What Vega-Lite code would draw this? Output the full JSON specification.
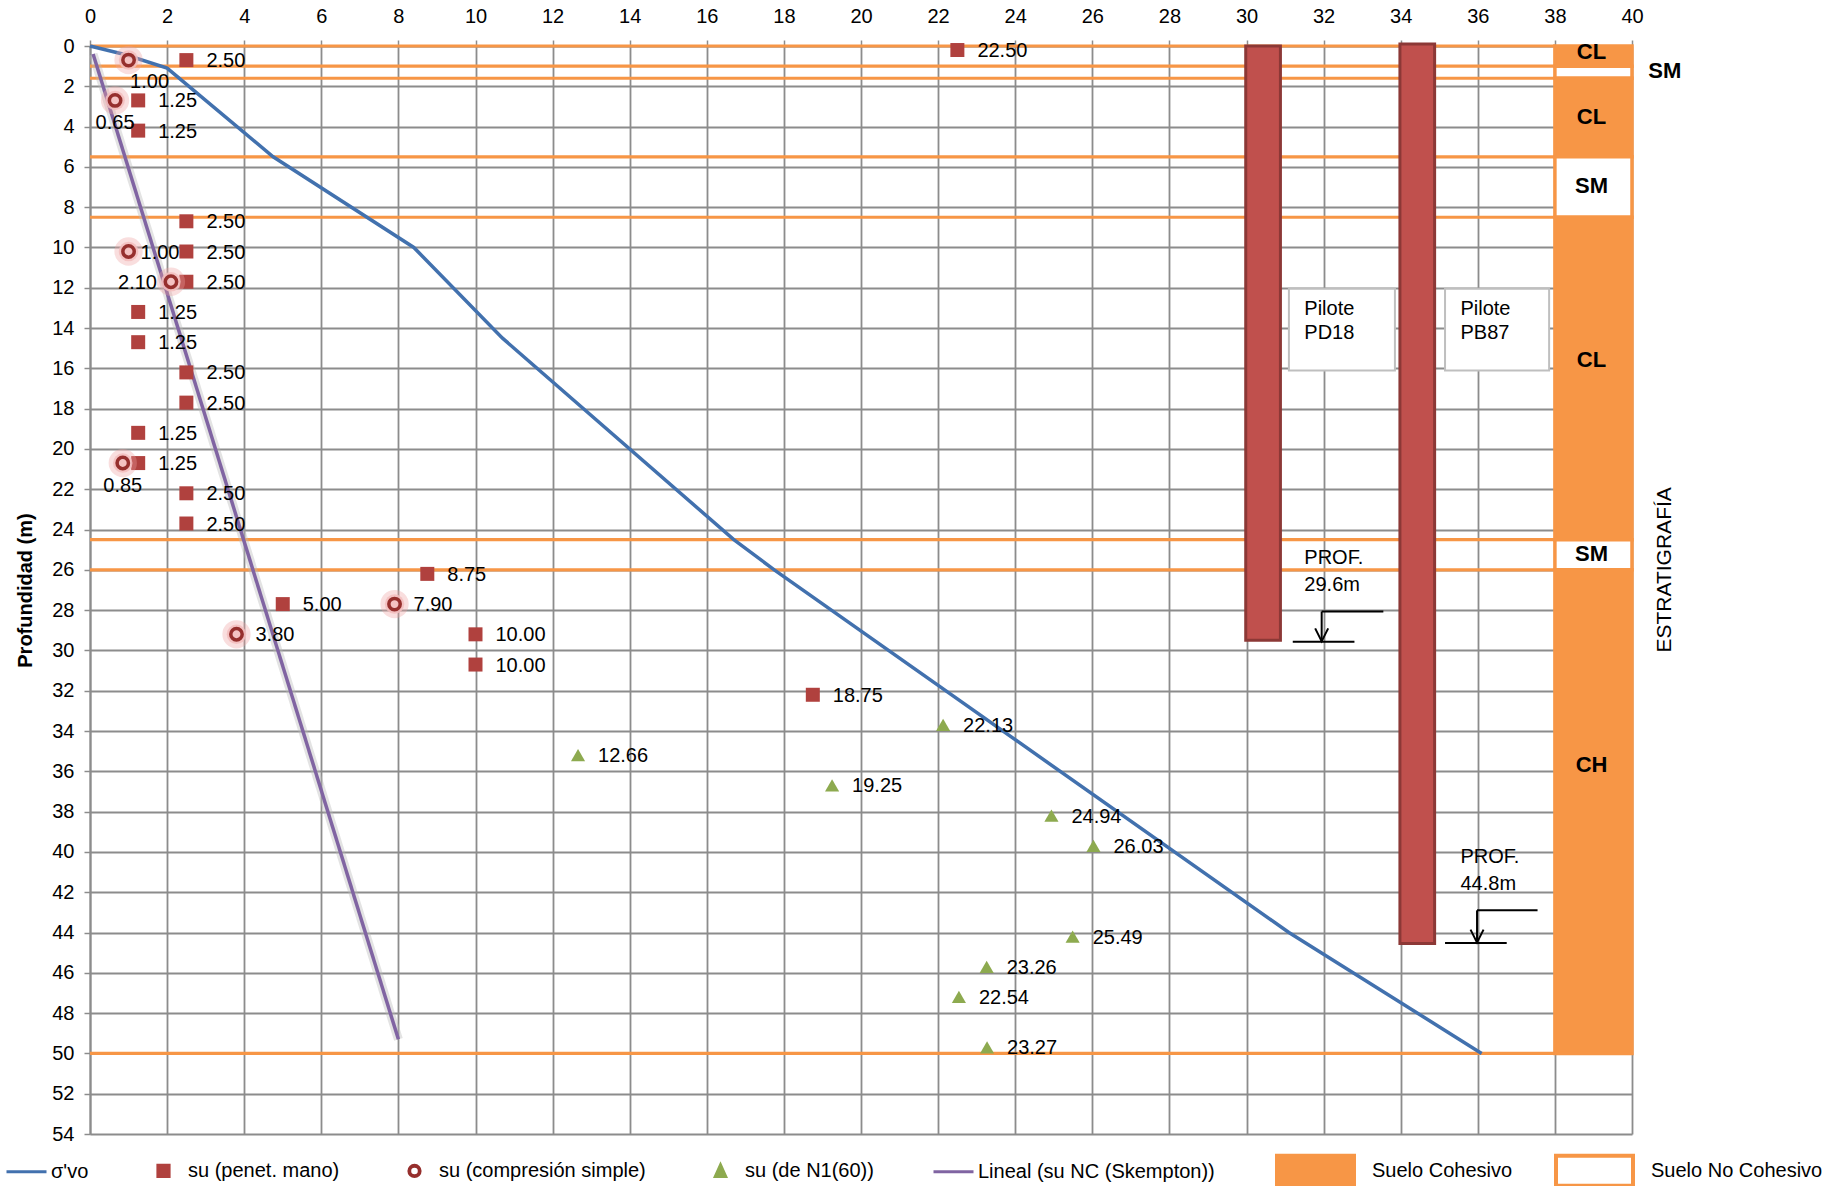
{
  "$schema": "https://vega.github.io/schema/vega-lite/v6.json",
  "width": 1542,
  "height": 1088,
  "autosize": {"type": "none"},
  "padding": {"left": 90, "top": 46, "right": 209, "bottom": 52},
  "background": "#ffffff",
  "config": {"view": {"stroke": null}, "font": "Liberation Sans"},
  "datasets": {
    "estratos": [
      {"suelo": "CL", "tipo": "Suelo Cohesivo", "desde": 0, "hasta": 1.0, "etq": 0.3},
      {"suelo": "SM", "tipo": "Suelo No Cohesivo", "desde": 1.0, "hasta": 1.6, "etq": 1.25},
      {"suelo": "CL", "tipo": "Suelo Cohesivo", "desde": 1.6, "hasta": 5.5, "etq": 3.5},
      {"suelo": "SM", "tipo": "Suelo No Cohesivo", "desde": 5.5, "hasta": 8.5, "etq": 6.95},
      {"suelo": "CL", "tipo": "Suelo Cohesivo", "desde": 8.5, "hasta": 24.5, "etq": 15.6},
      {"suelo": "SM", "tipo": "Suelo No Cohesivo", "desde": 24.5, "hasta": 26, "etq": 25.2},
      {"suelo": "CH", "tipo": "Suelo Cohesivo", "desde": 26, "hasta": 50, "etq": 35.7}
    ],
    "sigma": [
      {"x": 0, "prof": 0}, {"x": 0.9, "prof": 0.42}, {"x": 2.0, "prof": 1.1}, {"x": 4.75, "prof": 5.5},
      {"x": 8.4, "prof": 10}, {"x": 10.7, "prof": 14.5}, {"x": 16.7, "prof": 24.5}, {"x": 17.75, "prof": 26},
      {"x": 31.1, "prof": 44}, {"x": 36.1, "prof": 50}
    ],
    "lineal": [{"x": 0.08, "prof": 0.4}, {"x": 8.0, "prof": 49.3}],
    "cuadros": [
      {"x": 2.5, "prof": 0.7}, {"x": 22.5, "prof": 0.2}, {"x": 1.25, "prof": 2.7}, {"x": 1.25, "prof": 4.2},
      {"x": 2.5, "prof": 8.7}, {"x": 2.5, "prof": 10.2}, {"x": 2.5, "prof": 11.7}, {"x": 1.25, "prof": 13.2},
      {"x": 1.25, "prof": 14.7}, {"x": 2.5, "prof": 16.2}, {"x": 2.5, "prof": 17.7}, {"x": 1.25, "prof": 19.2},
      {"x": 1.25, "prof": 20.7}, {"x": 2.5, "prof": 22.2}, {"x": 2.5, "prof": 23.7}, {"x": 8.75, "prof": 26.2},
      {"x": 5.0, "prof": 27.7}, {"x": 10.0, "prof": 29.2}, {"x": 10.0, "prof": 30.7}, {"x": 18.75, "prof": 32.2}
    ],
    "circulos": [
      {"x": 1.0, "prof": 0.7}, {"x": 0.65, "prof": 2.7}, {"x": 1.0, "prof": 10.2}, {"x": 2.1, "prof": 11.7},
      {"x": 0.85, "prof": 20.7}, {"x": 7.9, "prof": 27.7}, {"x": 3.8, "prof": 29.2}
    ],
    "triangulos": [
      {"x": 22.13, "prof": 33.7}, {"x": 12.66, "prof": 35.2}, {"x": 19.25, "prof": 36.7}, {"x": 24.94, "prof": 38.2},
      {"x": 26.03, "prof": 39.7}, {"x": 25.49, "prof": 44.2}, {"x": 23.26, "prof": 45.7}, {"x": 22.54, "prof": 47.2},
      {"x": 23.27, "prof": 49.7}
    ],
    "pilotes": [
      {"pilote": "PD18", "x1": 29.98, "x2": 30.88, "desde": 0, "hasta": 29.5},
      {"pilote": "PB87", "x1": 33.98, "x2": 34.88, "desde": -0.1, "hasta": 44.55}
    ],
    "cajas": [
      {"x1": 31.1, "x2": 33.85, "y1": 12.05, "y2": 16.1},
      {"x1": 35.15, "x2": 37.85, "y1": 12.05, "y2": 16.1}
    ],
    "textos": [
      {"texto": "Pilote", "x": 31.5, "prof": 13.05}, {"texto": "PD18", "x": 31.5, "prof": 14.25},
      {"texto": "Pilote", "x": 35.55, "prof": 13.05}, {"texto": "PB87", "x": 35.55, "prof": 14.25},
      {"texto": "PROF.", "x": 31.5, "prof": 25.4}, {"texto": "29.6m", "x": 31.5, "prof": 26.75},
      {"texto": "PROF.", "x": 35.55, "prof": 40.25}, {"texto": "44.8m", "x": 35.55, "prof": 41.6}
    ],
    "cotas": [
      {"x1": 31.95, "x2": 33.55, "y1": 28.07, "y2": 28.07},
      {"x1": 31.95, "x2": 31.95, "y1": 28.07, "y2": 29.55},
      {"x1": 31.2, "x2": 32.8, "y1": 29.57, "y2": 29.57},
      {"x1": 35.98, "x2": 37.55, "y1": 42.9, "y2": 42.9},
      {"x1": 35.98, "x2": 35.98, "y1": 42.9, "y2": 44.5},
      {"x1": 35.15, "x2": 36.75, "y1": 44.52, "y2": 44.52}
    ],
    "puntas": [{"x": 31.95, "prof": 29.55}, {"x": 35.98, "prof": 44.5}],
    "titulo": [{"texto": "ESTRATIGRAFÍA", "x": 40.85, "prof": 26.0}]
  },
  "layer": [
    {
      "data": {"name": "estratos"},
      "mark": {"type": "rect", "stroke": "#F79646", "strokeWidth": 3.5},
      "encoding": {
        "x": {"datum": 38, "type": "quantitative", "scale": {"domain": [0, 40], "nice": false, "zero": false},
          "axis": {
            "orient": "top",
            "values": [0,1,2,3,4,5,6,7,8,9,10,11,12,13,14,15,16,17,18,19,20,21,22,23,24,25,26,27,28,29,30,31,32,33,34,35,36,37,38,39,40],
            "labelExpr": "datum.value % 2 === 0 ? datum.label : ''",
            "format": "d",
            "title": null,
            "grid": true,
            "gridColor": {"condition": {"test": "datum.value % 2 === 0", "value": "#8C8C8C"}, "value": "#C8C8C8"},
            "gridWidth": 1.8,
            "ticks": true, "tickSize": 6, "tickWidth": 1.5, "tickColor": "#8C8C8C",
            "tickOpacity": {"condition": {"test": "datum.value % 2 === 0", "value": 1}, "value": 0},
            "domain": true, "domainColor": "#8C8C8C", "domainWidth": 1.6,
            "labelFont": "Liberation Sans", "labelFontSize": 20, "labelColor": "#000000", "labelPadding": 14,
            "labelOverlap": false, "labelFlush": false, "labelBound": false
          }
        },
        "x2": {"datum": 40},
        "y": {"field": "desde", "type": "quantitative", "scale": {"domain": [0, 54], "nice": false, "zero": false, "reverse": true},
          "axis": {
            "orient": "left",
            "values": [0,1,2,3,4,5,6,7,8,9,10,11,12,13,14,15,16,17,18,19,20,21,22,23,24,25,26,27,28,29,30,31,32,33,34,35,36,37,38,39,40,41,42,43,44,45,46,47,48,49,50,51,52,53,54],
            "labelExpr": "datum.value % 2 === 0 ? datum.label : ''",
            "format": "d",
            "title": "Profundidad (m)",
            "titleFont": "Liberation Sans", "titleFontSize": 20, "titleFontWeight": "bold", "titleColor": "#000000", "titlePadding": 16,
            "grid": true,
            "gridColor": {"condition": {"test": "datum.value % 2 === 0", "value": "#8C8C8C"}, "value": "#C8C8C8"},
            "gridWidth": 1.8,
            "ticks": true, "tickSize": 6, "tickWidth": 1.5, "tickColor": "#8C8C8C",
            "tickOpacity": {"condition": {"test": "datum.value % 2 === 0", "value": 1}, "value": 0},
            "domain": true, "domainColor": "#8C8C8C", "domainWidth": 2,
            "labelFont": "Liberation Sans", "labelFontSize": 20, "labelColor": "#000000", "labelPadding": 10,
            "labelOverlap": false, "labelFlush": false, "labelBound": false
          }
        },
        "y2": {"field": "hasta"},
        "fill": {
          "field": "tipo", "type": "nominal",
          "scale": {"domain": ["Suelo Cohesivo", "Suelo No Cohesivo"], "range": ["#F79646", "#FFFFFF"]},
          "legend": {
            "orient": "none", "legendX": 1185, "legendY": 1084, "direction": "horizontal", "columns": 2, "title": null,
            "symbolType": "M-1,-0.39H1V0.39H-1Z", "symbolSize": 5929, "symbolStrokeWidth": 4, "symbolStrokeColor": "#F79646",
            "labelFont": "Liberation Sans", "labelFontSize": 20, "labelColor": "#000000", "labelLimit": 400, "labelOffset": 16,
            "columnPadding": 35, "padding": 0,
            "encode": {"symbols": {"update": {
              "fill": {"signal": "datum.index === 0 ? '#F79646' : '#FFFFFF'"},
              "stroke": {"value": "#F79646"},
              "opacity": {"value": 1}
            }}}
          }
        }
      }
    },
    {
      "data": {"name": "estratos"},
      "mark": {"type": "rule", "color": "#F79646", "strokeWidth": 3.2},
      "encoding": {
        "x": {"datum": 0, "type": "quantitative", "scale": {"domain": [0, 40], "nice": false, "zero": false}},
        "x2": {"datum": 38},
        "y": {"field": "desde", "type": "quantitative", "scale": {"domain": [0, 54], "nice": false, "zero": false, "reverse": true}}
      }
    },
    {
      "data": {"name": "estratos"},
      "transform": [{"filter": "datum.hasta === 50"}],
      "mark": {"type": "rule", "color": "#F79646", "strokeWidth": 3.2},
      "encoding": {
        "x": {"datum": 0, "type": "quantitative", "scale": {"domain": [0, 40], "nice": false, "zero": false}},
        "x2": {"datum": 38},
        "y": {"field": "hasta", "type": "quantitative", "scale": {"domain": [0, 54], "nice": false, "zero": false, "reverse": true}}
      }
    },
    {
      "data": {"name": "pilotes"},
      "mark": {"type": "rect", "fill": "#C0504D", "stroke": "#8C3836", "strokeWidth": 3},
      "encoding": {
        "x": {"field": "x1", "type": "quantitative", "scale": {"domain": [0, 40], "nice": false, "zero": false}},
        "x2": {"field": "x2"},
        "y": {"field": "desde", "type": "quantitative", "scale": {"domain": [0, 54], "nice": false, "zero": false, "reverse": true}},
        "y2": {"field": "hasta"}
      }
    },
    {
      "data": {"name": "cajas"},
      "mark": {"type": "rect", "fill": "#FFFFFF", "stroke": "#BFBFBF", "strokeWidth": 2},
      "encoding": {
        "x": {"field": "x1", "type": "quantitative", "scale": {"domain": [0, 40], "nice": false, "zero": false}},
        "x2": {"field": "x2"},
        "y": {"field": "y1", "type": "quantitative", "scale": {"domain": [0, 54], "nice": false, "zero": false, "reverse": true}},
        "y2": {"field": "y2"}
      }
    },
    {
      "data": {"name": "textos"},
      "mark": {"type": "text", "align": "left", "baseline": "middle", "fontSize": 20, "font": "Liberation Sans", "color": "#000000"},
      "encoding": {
        "x": {"field": "x", "type": "quantitative", "scale": {"domain": [0, 40], "nice": false, "zero": false}},
        "y": {"field": "prof", "type": "quantitative", "scale": {"domain": [0, 54], "nice": false, "zero": false, "reverse": true}},
        "text": {"field": "texto", "type": "nominal"}
      }
    },
    {
      "data": {"name": "cotas"},
      "mark": {"type": "rule", "color": "#000000", "strokeWidth": 2},
      "encoding": {
        "x": {"field": "x1", "type": "quantitative", "scale": {"domain": [0, 40], "nice": false, "zero": false}},
        "x2": {"field": "x2"},
        "y": {"field": "y1", "type": "quantitative", "scale": {"domain": [0, 54], "nice": false, "zero": false, "reverse": true}},
        "y2": {"field": "y2"}
      }
    },
    {
      "data": {"name": "puntas"},
      "mark": {"type": "point", "shape": "M-0.5,-1L0,0L0.5,-1", "filled": false, "stroke": "#000000", "strokeWidth": 2, "size": 676, "opacity": 1},
      "encoding": {
        "x": {"field": "x", "type": "quantitative", "scale": {"domain": [0, 40], "nice": false, "zero": false}},
        "y": {"field": "prof", "type": "quantitative", "scale": {"domain": [0, 54], "nice": false, "zero": false, "reverse": true}}
      }
    },
    {
      "data": {"name": "lineal"},
      "mark": {"type": "line", "color": "#B8B8B8", "strokeWidth": 9, "opacity": 0.4},
      "encoding": {
        "x": {"field": "x", "type": "quantitative", "scale": {"domain": [0, 40], "nice": false, "zero": false}},
        "y": {"field": "prof", "type": "quantitative", "scale": {"domain": [0, 54], "nice": false, "zero": false, "reverse": true}},
        "order": {"field": "prof"}
      }
    },
    {
      "data": {"name": "lineal"},
      "mark": {"type": "line", "strokeWidth": 3.5},
      "encoding": {
        "x": {"field": "x", "type": "quantitative", "scale": {"domain": [0, 40], "nice": false, "zero": false}},
        "y": {"field": "prof", "type": "quantitative", "scale": {"domain": [0, 54], "nice": false, "zero": false, "reverse": true}},
        "order": {"field": "prof"},
        "color": {"datum": "Lineal (su NC (Skempton))", "type": "nominal"}
      }
    },
    {
      "data": {"name": "sigma"},
      "mark": {"type": "line", "strokeWidth": 3.5},
      "encoding": {
        "x": {"field": "x", "type": "quantitative", "scale": {"domain": [0, 40], "nice": false, "zero": false}},
        "y": {"field": "prof", "type": "quantitative", "scale": {"domain": [0, 54], "nice": false, "zero": false, "reverse": true}},
        "order": {"field": "prof"},
        "color": {
          "datum": "σ'vo", "type": "nominal",
          "scale": {
            "domain": ["σ'vo", "su (penet. mano)", "su (compresión simple)", "su (de N1(60))", "Lineal (su NC (Skempton))"],
            "range": ["#4271AE", "#B0413E", "#962F2D", "#8DAA4F", "#8064A2"]
          },
          "legend": {
            "orient": "none", "legendX": -85, "legendY": 1103, "direction": "horizontal", "columns": 5, "title": null,
            "symbolSize": 1600, "symbolStrokeWidth": 3, "symbolType": "stroke",
            "labelFont": "Liberation Sans", "labelFontSize": 20, "labelColor": "#000000", "labelLimit": 400, "labelOffset": 3,
            "columnPadding": 53, "padding": 0,
            "encode": {"symbols": {"update": {
              "shape": {"signal": "datum.index === 1 ? 'M-0.28,-0.28H0.28V0.28H-0.28Z' : datum.index === 2 ? 'M0.28,0A0.28,0.28 0 1,1 -0.28,0A0.28,0.28 0 1,1 0.28,0ZM0.24,0A0.24,0.24 0 1,0 -0.24,0A0.24,0.24 0 1,0 0.24,0Z' : datum.index === 3 ? 'M0,-0.3L0.26,0.28L-0.26,0.28Z' : 'stroke'"},
              "fill": {"signal": "datum.index === 1 ? '#B0413E' : datum.index === 3 ? '#8DAA4F' : datum.index === 2 ? '#962F2D' : 'transparent'"},
              "stroke": {"signal": "datum.index === 0 ? '#4271AE' : datum.index === 1 ? '#B0413E' : datum.index === 2 ? '#962F2D' : datum.index === 3 ? '#8DAA4F' : '#8064A2'"},
              "opacity": {"value": 1}
            }}}
          }
        }
      }
    },
    {
      "data": {"name": "cuadros"},
      "mark": {"type": "point", "shape": "square", "filled": true, "size": 196, "opacity": 1},
      "encoding": {
        "x": {"field": "x", "type": "quantitative", "scale": {"domain": [0, 40], "nice": false, "zero": false}},
        "y": {"field": "prof", "type": "quantitative", "scale": {"domain": [0, 54], "nice": false, "zero": false, "reverse": true}},
        "color": {"datum": "su (penet. mano)", "type": "nominal"}
      }
    },
    {
      "data": {"name": "cuadros"},
      "mark": {"type": "text", "align": "left", "baseline": "middle", "dx": 20, "dy": 1, "fontSize": 20, "font": "Liberation Sans", "color": "#000000"},
      "encoding": {
        "x": {"field": "x", "type": "quantitative", "scale": {"domain": [0, 40], "nice": false, "zero": false}},
        "y": {"field": "prof", "type": "quantitative", "scale": {"domain": [0, 54], "nice": false, "zero": false, "reverse": true}},
        "text": {"field": "x", "type": "quantitative", "format": ".2f"}
      }
    },
    {
      "data": {"name": "circulos"},
      "mark": {"type": "point", "shape": "circle", "filled": true, "size": 800, "color": "#EFA0A0", "opacity": 0.35},
      "encoding": {
        "x": {"field": "x", "type": "quantitative", "scale": {"domain": [0, 40], "nice": false, "zero": false}},
        "y": {"field": "prof", "type": "quantitative", "scale": {"domain": [0, 54], "nice": false, "zero": false, "reverse": true}}
      }
    },
    {
      "data": {"name": "circulos"},
      "mark": {"type": "point", "shape": "circle", "filled": true, "size": 380, "color": "#F3BDBD", "opacity": 0.85},
      "encoding": {
        "x": {"field": "x", "type": "quantitative", "scale": {"domain": [0, 40], "nice": false, "zero": false}},
        "y": {"field": "prof", "type": "quantitative", "scale": {"domain": [0, 54], "nice": false, "zero": false, "reverse": true}}
      }
    },
    {
      "data": {"name": "circulos"},
      "mark": {"type": "point", "shape": "circle", "filled": false, "size": 130, "strokeWidth": 3.5, "opacity": 1},
      "encoding": {
        "x": {"field": "x", "type": "quantitative", "scale": {"domain": [0, 40], "nice": false, "zero": false}},
        "y": {"field": "prof", "type": "quantitative", "scale": {"domain": [0, 54], "nice": false, "zero": false, "reverse": true}},
        "color": {"datum": "su (compresión simple)", "type": "nominal"}
      }
    },
    {
      "data": {"name": "circulos"},
      "transform": [{"filter": "datum.prof > 25"}],
      "mark": {"type": "text", "align": "left", "baseline": "middle", "dx": 19, "dy": 1, "fontSize": 20, "font": "Liberation Sans", "color": "#000000"},
      "encoding": {
        "x": {"field": "x", "type": "quantitative", "scale": {"domain": [0, 40], "nice": false, "zero": false}},
        "y": {"field": "prof", "type": "quantitative", "scale": {"domain": [0, 54], "nice": false, "zero": false, "reverse": true}},
        "text": {"field": "x", "type": "quantitative", "format": ".2f"}
      }
    },
    {
      "data": {"name": "circulos"},
      "transform": [{"filter": "datum.prof === 10.2"}],
      "mark": {"type": "text", "align": "left", "baseline": "middle", "dx": 12, "dy": 1, "fontSize": 20, "font": "Liberation Sans", "color": "#000000"},
      "encoding": {
        "x": {"field": "x", "type": "quantitative", "scale": {"domain": [0, 40], "nice": false, "zero": false}},
        "y": {"field": "prof", "type": "quantitative", "scale": {"domain": [0, 54], "nice": false, "zero": false, "reverse": true}},
        "text": {"field": "x", "type": "quantitative", "format": ".2f"}
      }
    },
    {
      "data": {"name": "circulos"},
      "transform": [{"filter": "datum.prof === 11.7"}],
      "mark": {"type": "text", "align": "right", "baseline": "middle", "dx": -14, "dy": 1, "fontSize": 20, "font": "Liberation Sans", "color": "#000000"},
      "encoding": {
        "x": {"field": "x", "type": "quantitative", "scale": {"domain": [0, 40], "nice": false, "zero": false}},
        "y": {"field": "prof", "type": "quantitative", "scale": {"domain": [0, 54], "nice": false, "zero": false, "reverse": true}},
        "text": {"field": "x", "type": "quantitative", "format": ".2f"}
      }
    },
    {
      "data": {"name": "circulos"},
      "transform": [{"filter": "datum.prof === 0.7"}],
      "mark": {"type": "text", "align": "center", "baseline": "middle", "dx": 21, "dy": 22, "fontSize": 20, "font": "Liberation Sans", "color": "#000000"},
      "encoding": {
        "x": {"field": "x", "type": "quantitative", "scale": {"domain": [0, 40], "nice": false, "zero": false}},
        "y": {"field": "prof", "type": "quantitative", "scale": {"domain": [0, 54], "nice": false, "zero": false, "reverse": true}},
        "text": {"field": "x", "type": "quantitative", "format": ".2f"}
      }
    },
    {
      "data": {"name": "circulos"},
      "transform": [{"filter": "datum.prof === 2.7 || datum.prof === 20.7"}],
      "mark": {"type": "text", "align": "center", "baseline": "middle", "dy": 23, "fontSize": 20, "font": "Liberation Sans", "color": "#000000"},
      "encoding": {
        "x": {"field": "x", "type": "quantitative", "scale": {"domain": [0, 40], "nice": false, "zero": false}},
        "y": {"field": "prof", "type": "quantitative", "scale": {"domain": [0, 54], "nice": false, "zero": false, "reverse": true}},
        "text": {"field": "x", "type": "quantitative", "format": ".2f"}
      }
    },
    {
      "data": {"name": "triangulos"},
      "mark": {"type": "point", "shape": "triangle-up", "filled": true, "size": 200, "opacity": 1},
      "encoding": {
        "x": {"field": "x", "type": "quantitative", "scale": {"domain": [0, 40], "nice": false, "zero": false}},
        "y": {"field": "prof", "type": "quantitative", "scale": {"domain": [0, 54], "nice": false, "zero": false, "reverse": true}},
        "color": {"datum": "su (de N1(60))", "type": "nominal"}
      }
    },
    {
      "data": {"name": "triangulos"},
      "mark": {"type": "text", "align": "left", "baseline": "middle", "dx": 20, "dy": 1, "fontSize": 20, "font": "Liberation Sans", "color": "#000000"},
      "encoding": {
        "x": {"field": "x", "type": "quantitative", "scale": {"domain": [0, 40], "nice": false, "zero": false}},
        "y": {"field": "prof", "type": "quantitative", "scale": {"domain": [0, 54], "nice": false, "zero": false, "reverse": true}},
        "text": {"field": "x", "type": "quantitative", "format": ".2f"}
      }
    },
    {
      "data": {"name": "estratos"},
      "transform": [{"filter": "datum.desde !== 1.0"}],
      "mark": {"type": "text", "align": "center", "baseline": "middle", "fontSize": 22, "fontWeight": "bold", "font": "Liberation Sans", "color": "#000000"},
      "encoding": {
        "x": {"datum": 38.95, "type": "quantitative", "scale": {"domain": [0, 40], "nice": false, "zero": false}},
        "y": {"field": "etq", "type": "quantitative", "scale": {"domain": [0, 54], "nice": false, "zero": false, "reverse": true}},
        "text": {"field": "suelo", "type": "nominal"}
      }
    },
    {
      "data": {"name": "estratos"},
      "transform": [{"filter": "datum.desde === 1.0"}],
      "mark": {"type": "text", "align": "center", "baseline": "middle", "fontSize": 22, "fontWeight": "bold", "font": "Liberation Sans", "color": "#000000"},
      "encoding": {
        "x": {"datum": 40.85, "type": "quantitative", "scale": {"domain": [0, 40], "nice": false, "zero": false}},
        "y": {"field": "etq", "type": "quantitative", "scale": {"domain": [0, 54], "nice": false, "zero": false, "reverse": true}},
        "text": {"field": "suelo", "type": "nominal"}
      }
    },
    {
      "data": {"name": "titulo"},
      "mark": {"type": "text", "align": "center", "baseline": "middle", "angle": 270, "fontSize": 21, "font": "Liberation Sans", "color": "#000000"},
      "encoding": {
        "x": {"field": "x", "type": "quantitative", "scale": {"domain": [0, 40], "nice": false, "zero": false}},
        "y": {"field": "prof", "type": "quantitative", "scale": {"domain": [0, 54], "nice": false, "zero": false, "reverse": true}},
        "text": {"field": "texto", "type": "nominal"}
      }
    }
  ]
}
